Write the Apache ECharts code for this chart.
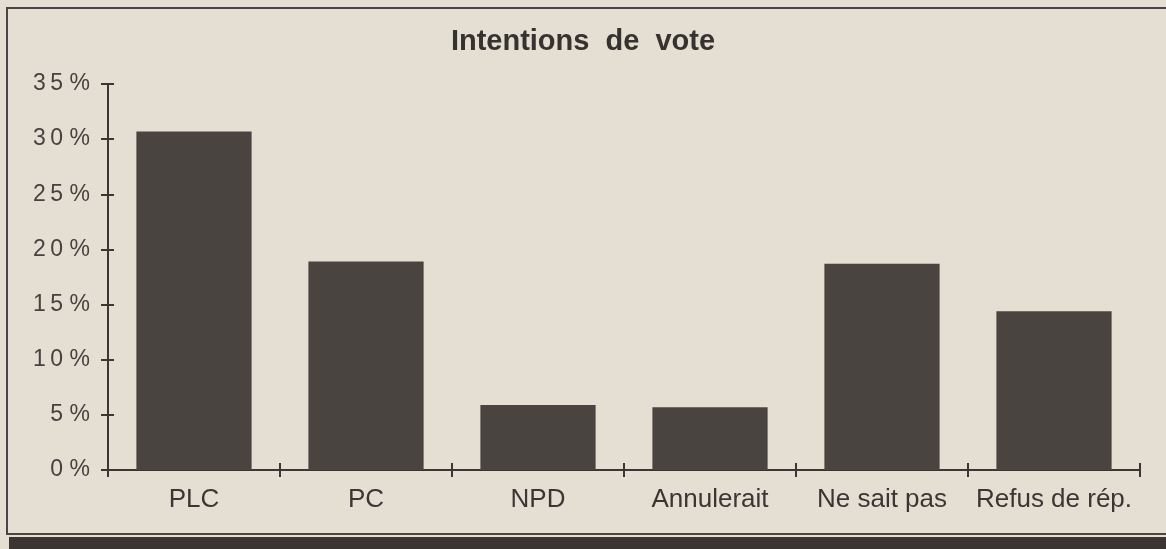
<!DOCTYPE html>
<html>
<head>
<meta charset="utf-8">
<script src="https://cdn.jsdelivr.net/npm/echarts@6/dist/echarts.min.js"></script>
<style>
html,body{margin:0;padding:0;background:#e4dfd2;}
#c{width:1166px;height:549px;}
</style>
</head>
<body>
<div id="c"></div>
<script>
const titleText = 'Intentions  de  vote';
const categories = ['PLC', 'PC', 'NPD', 'Annulerait', 'Ne sait pas', 'Refus de rép.'];
const values = [30.7, 18.9, 5.9, 5.7, 18.7, 14.4];
const yTicks = [0, 5, 10, 15, 20, 25, 30, 35];

const ink = '#3b3633';
const barColor = '#4a4441';
const yMin = yTicks[0], yMax = yTicks[yTicks.length - 1], yStep = yTicks[1] - yTicks[0];

const chart = echarts.init(document.getElementById('c'), null, {renderer: 'canvas'});
const fmtY = v => String(v).split('').join('\u2009') + ' %';

chart.setOption({
  backgroundColor: '#e4dfd2',
  animation: false,
  title: {
    text: titleText,
    left: 'center',
    top: 27,
    padding: 0,
    textStyle: {fontFamily: 'Liberation Sans', fontSize: 29, fontWeight: 'bold', color: '#36322f'}
  },
  graphic: [
    {type: 'rect', shape: {x: 7, y: 8, width: 1200, height: 526}, style: {fill: 'none', stroke: '#4a4542', lineWidth: 2}, silent: true},
    {type: 'rect', shape: {x: 9, y: 537, width: 1160, height: 14}, style: {fill: '#3a3533'}, silent: true}
  ],
  grid: {left: 108, right: 26, top: 84, bottom: 79, containLabel: false},
  xAxis: [
    {
      type: 'category', data: categories, position: 'bottom',
      axisLine: {lineStyle: {color: ink, width: 2}},
      axisTick: {show: true, inside: false, length: 7, lineStyle: {color: ink, width: 2}},
      axisLabel: {margin: 17, fontFamily: 'Liberation Sans', fontSize: 26, color: ink, interval: 0}
    },
    {
      type: 'category', data: categories, position: 'bottom',
      axisLine: {show: false},
      axisTick: {show: true, inside: true, length: 7, lineStyle: {color: ink, width: 2}},
      axisLabel: {show: false}
    }
  ],
  yAxis: [
    {
      type: 'value', min: yMin, max: yMax, interval: yStep, position: 'left',
      axisLine: {show: true, lineStyle: {color: ink, width: 2}},
      axisTick: {show: true, inside: false, length: 7, lineStyle: {color: ink, width: 2}},
      splitLine: {show: false},
      axisLabel: {margin: 18, fontFamily: 'Liberation Sans', fontSize: 23, color: '#46423f', formatter: fmtY}
    },
    {
      type: 'value', min: yMin, max: yMax, interval: yStep, position: 'left',
      axisLine: {show: false},
      axisTick: {show: true, inside: true, length: 6, lineStyle: {color: ink, width: 2}},
      splitLine: {show: false},
      axisLabel: {show: false}
    }
  ],
  series: [{
    type: 'bar',
    data: values,
    xAxisIndex: 0, yAxisIndex: 0,
    barWidth: '67%',
    itemStyle: {color: barColor},
    silent: true
  }]
});
</script>
</body>
</html>
